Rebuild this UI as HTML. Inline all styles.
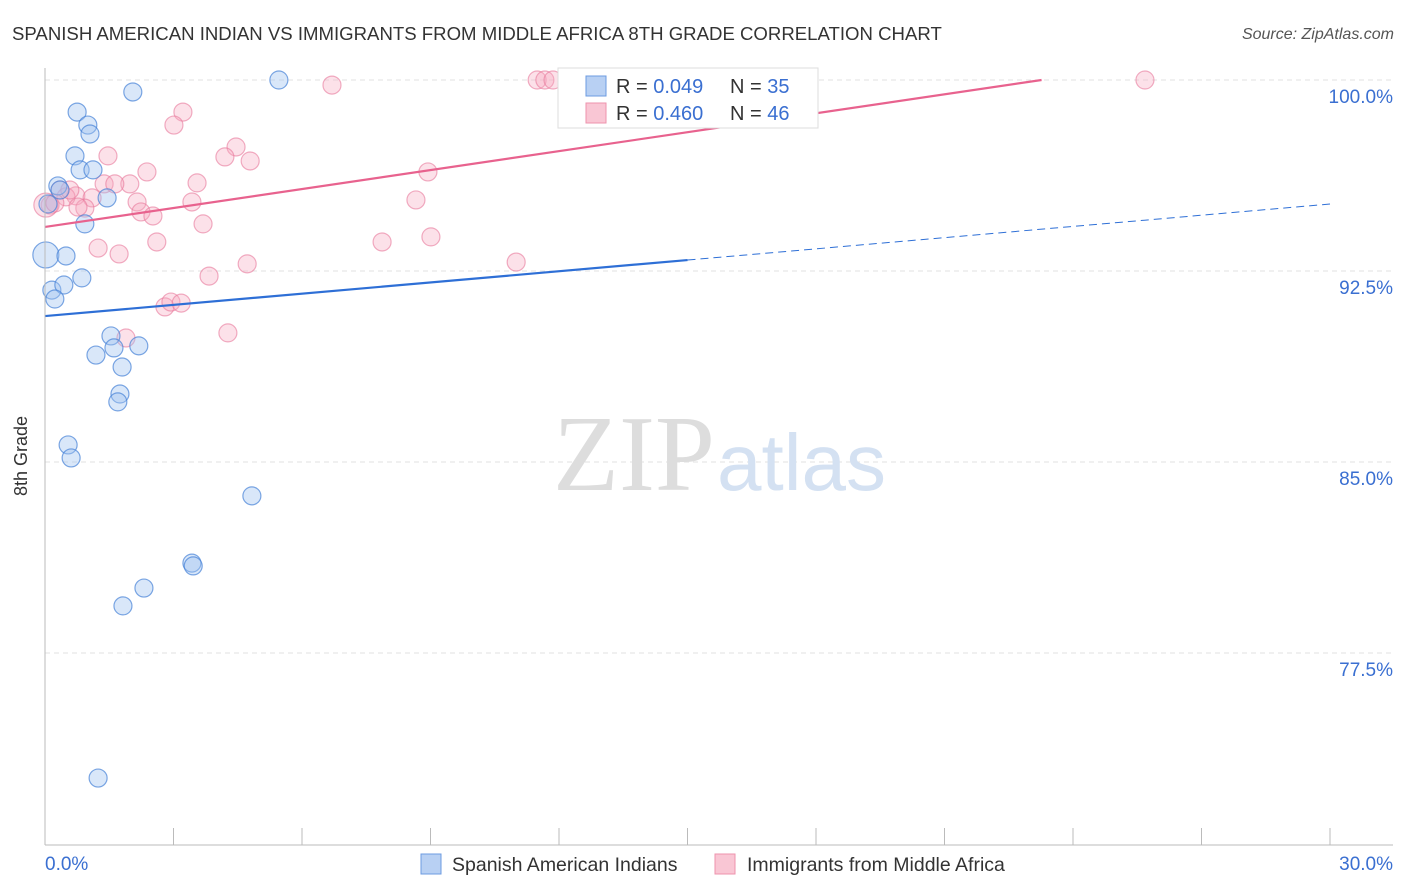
<!DOCTYPE html>
<html><head><meta charset="utf-8"><style>
body{margin:0;background:#fff;font-family:"Liberation Sans",Arial,sans-serif;}
svg{display:block}
</style></head><body>
<svg id="chart" width="1406" height="892" xmlns="http://www.w3.org/2000/svg">
<text x="12" y="40" font-size="18.6" fill="#333">SPANISH AMERICAN INDIAN VS IMMIGRANTS FROM MIDDLE AFRICA 8TH GRADE CORRELATION CHART</text>
<text x="1394" y="39" font-size="16" fill="#555" font-style="italic" text-anchor="end">Source: ZipAtlas.com</text>
<g id="grid"></g>
<text x="553" y="490" font-size="108" fill="#ddd" font-family="Liberation Serif,serif">ZIP</text>
<text x="717" y="490" font-size="80" fill="#d4e1f2">atlas</text>
<g id="marks"></g>
<g id="lines"></g>
<line x1="45" y1="68" x2="45" y2="845" stroke="#bbb"/>
<line x1="45" y1="845" x2="1393" y2="845" stroke="#bbb"/>
<g id="axes"></g>
<text x="27" y="456" font-size="18" fill="#333" text-anchor="middle" transform="rotate(-90 27 456)">8th Grade</text>
<text x="45" y="870" font-size="19" fill="#3a6fd1">0.0%</text>
<text x="1393" y="870" font-size="19" fill="#3a6fd1" text-anchor="end">30.0%</text>
<g>
<rect x="558" y="68" width="260" height="60" fill="#fff" stroke="#ddd"/>
<rect x="586" y="76" width="20" height="20" fill="#b8d0f3" stroke="#6c9be0"/>
<text x="616" y="93" font-size="20" fill="#333">R = <tspan fill="#3a6fd1">0.049</tspan></text>
<text x="730" y="93" font-size="20" fill="#333">N = <tspan fill="#3a6fd1">35</tspan></text>
<rect x="586" y="103" width="20" height="20" fill="#f9c6d4" stroke="#ee93ad"/>
<text x="616" y="120" font-size="20" fill="#333">R = <tspan fill="#3a6fd1">0.460</tspan></text>
<text x="730" y="120" font-size="20" fill="#333">N = <tspan fill="#3a6fd1">46</tspan></text>
</g>
<g>
<rect x="421" y="854" width="20" height="20" fill="#b8d0f3" stroke="#6c9be0"/>
<text x="452" y="871" font-size="19.5" fill="#333">Spanish American Indians</text>
</g>
<g>
<rect x="715" y="854" width="20" height="20" fill="#f9c6d4" stroke="#ee93ad"/>
<text x="747" y="871" font-size="19.5" fill="#333">Immigrants from Middle Africa</text>
</g>
</svg>
<script>
const yTicks=[100,92.5,85,77.5];
const yTickLabels=["100.0%","92.5%","85.0%","77.5%"];
const blueX=[5.46,2.05,0.75,1.00,1.05,0.70,0.82,1.12,0.30,0.35,1.45,0.93,0.02,0.49,0.86,0.16,0.44,0.23,1.54,1.61,2.19,1.19,1.80,1.75,1.70,0.54,0.61,4.83,3.43,3.46,2.31,1.82,1.24,0.07,12.49];
const blueY=[100,99.53,98.74,98.23,97.88,97.02,96.47,96.47,95.84,95.68,95.37,94.35,93.13,93.09,92.23,91.75,91.95,91.40,89.95,89.48,89.56,89.20,88.73,87.67,87.36,85.67,85.16,83.67,81.03,80.92,80.05,79.35,72.59,95.13,100];
const pinkX=[6.70,11.49,11.67,11.86,25.68,3.22,3.01,4.46,4.20,4.79,1.47,2.38,3.55,1.38,1.98,1.63,0.35,0.72,1.10,0.49,0.12,0.93,2.15,2.24,2.52,3.43,3.69,2.61,1.24,1.73,3.83,4.72,7.87,9.01,8.66,8.94,11.00,2.80,2.94,3.18,4.27,1.89,0.02,0.23,0.58,0.77];
const pinkY=[99.80,100,100,100,100,98.74,98.23,97.37,96.98,96.82,97.02,96.39,95.96,95.92,95.92,95.92,95.68,95.45,95.37,95.41,95.09,94.97,95.21,94.82,94.66,95.21,94.35,93.64,93.40,93.17,92.30,92.78,93.64,93.84,95.29,96.39,92.85,91.09,91.28,91.24,90.07,89.87,95.09,95.17,95.68,95.01];
const blueTrend=[90.73,95.13];
const pinkTrend=[94.23,101.67];
const NS="http://www.w3.org/2000/svg";
const sx=v=>45+v*1285/30, sy=v=>80+(100-v)*191/7.5;
function mk(t,a,p){const e=document.createElementNS(NS,t);for(const k in a)e.setAttribute(k,a[k]);p.appendChild(e);return e;}
const grid=document.getElementById('grid'),axes=document.getElementById('axes');
yTicks.forEach((v,i)=>{
 const l=mk('line',{x1:45,x2:1393,y1:sy(v),y2:sy(v),stroke:'#e2e2e2','stroke-dasharray':'5,4'},grid);
 
 
 const t=mk('text',{x:1393,y:sy(v)+23,'font-size':19,fill:'#3a6fd1','text-anchor':'end'},axes);
 t.textContent=yTickLabels[i];
 
 
});
for(let i=0;i<=10;i++){
 const l=mk('line',{x1:sx(i*3),x2:sx(i*3),y1:828,y2:845,stroke:'#bbb'},axes);
 
 
}
const marks=document.getElementById('marks');
pinkX.forEach((x,i)=>{
 const c=mk('circle',{cx:sx(x),cy:sy(pinkY[i]),r:(i==42?12:9),fill:'rgba(246,168,192,0.35)',stroke:'rgba(232,120,155,0.6)','stroke-width':1.2},marks);
 
 
});
blueX.forEach((x,i)=>{
 const c=mk('circle',{cx:sx(x),cy:sy(blueY[i]),r:(i==12?13:9),fill:'rgba(160,195,240,0.4)',stroke:'rgba(70,130,215,0.7)','stroke-width':1.2},marks);
 
 
});
const lines=document.getElementById('lines');
const bAt=x=>blueTrend[0]+(blueTrend[1]-blueTrend[0])*x/30;
let l=mk('line',{x1:sx(0),y1:sy(bAt(0)),x2:sx(15),y2:sy(bAt(15)),stroke:'#2e6fd6','stroke-width':2.2},lines);


l=mk('line',{x1:sx(15),y1:sy(bAt(15)),x2:sx(30),y2:sy(bAt(30)),stroke:'#2e6fd6','stroke-width':1,'stroke-dasharray':'8,5'},lines);


const pAt=x=>pinkTrend[0]+(pinkTrend[1]-pinkTrend[0])*x/30;
const xEnd=Math.min(30,(100-pinkTrend[0])*30/(pinkTrend[1]-pinkTrend[0]));
l=mk('line',{x1:sx(0),y1:sy(pAt(0)),x2:sx(xEnd),y2:sy(pAt(xEnd)),stroke:'#e8628e','stroke-width':2.2},lines);


</script>
</body></html>
